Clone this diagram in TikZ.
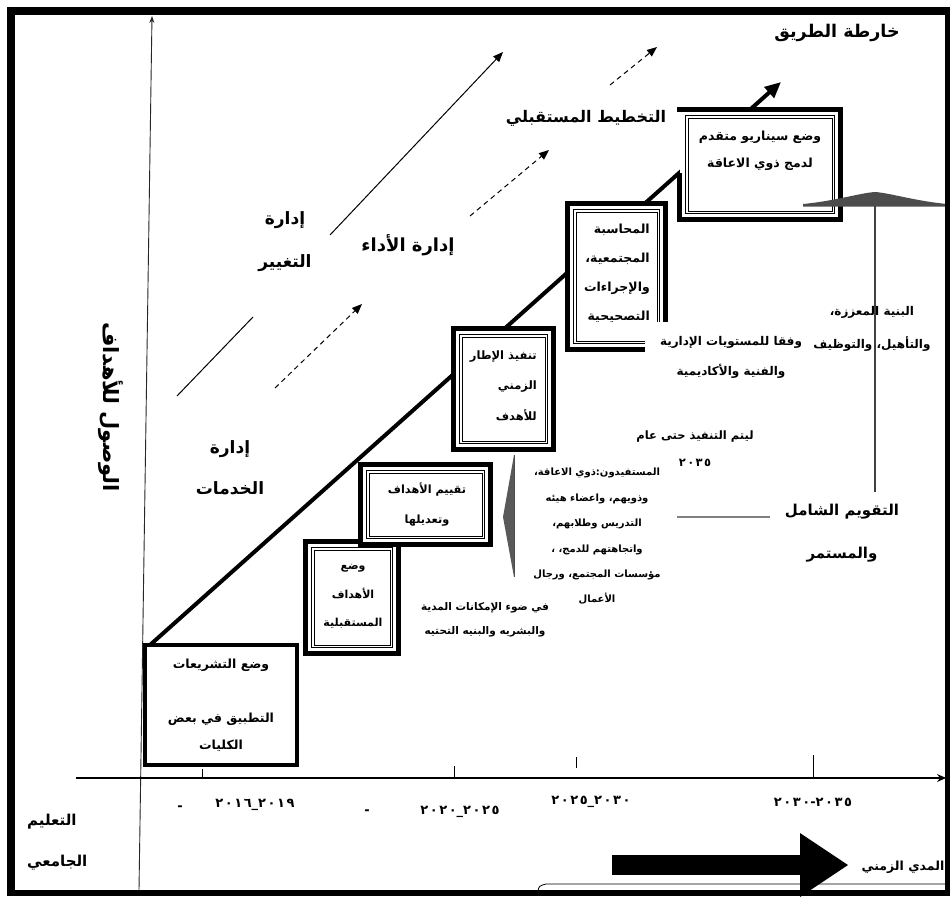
\documentclass[tikz,border=0pt]{standalone}
\usepackage{fontspec}
\newfontfamily\arabicfont[Script=Arabic]{DejaVu Sans}
\newfontfamily\digitfont[Script=Arabic,LetterSpace=12]{DejaVu Sans}
\TeXXeTstate=1
\usetikzlibrary{arrows.meta}
\newcommand{\AR}[1]{\beginR #1\endR}
\newcommand{\fsz}[2]{\fontsize{#1}{#2}\selectfont}
\tikzset{
  ar/.style={inner sep=0pt, align=center},
  num/.style={inner sep=0pt, font=\digitfont\bfseries\fsz{13}{15}},
  stairbox/.style={draw=black, fill=white, line width=5pt, inner sep=0pt, outer sep=0pt},
  thinline/.style={draw=black, line width=0.75pt},
  thinarrow/.style={line width=1pt, -{Triangle[length=10pt,width=8pt]}},
  dasharrow/.style={line width=1pt, dash pattern=on 5pt off 4pt, -{Triangle[length=10pt,width=8pt]}},
  tick/.style={line width=1pt},
}
\begin{document}
\begin{tikzpicture}[x=1pt,y=-1pt]
\useasboundingbox (0,0) rectangle (952,896);
\fill[white] (0,0) rectangle (952,896);

% axes
\coordinate (yax0) at (139,890);
\coordinate (yax1) at (152,16);
\draw[line width=0.9pt, black!85, -{Stealth[length=7pt,width=5pt]}] (yax0) -- (yax1);
\coordinate (xax0) at (76,778);
\coordinate (xax1) at (946,778);
\draw[line width=1.1pt, -{Stealth[length=9pt,width=8pt]}] (xax0) -- (xax1);
\draw[tick] (202,769) -- (202,778);
\draw[tick] (454,766) -- (454,778);
\draw[tick] (576,757) -- (576,768);
\draw[tick] (813,755) -- (813,778);

% decorative arrows
\coordinate (a1s) at (330,235); \coordinate (a1e) at (503,52);
\draw[thinarrow] (a1s) -- (a1e);
\coordinate (a2s) at (177,396); \coordinate (a2e) at (253,317);
\draw[line width=1pt] (a2s) -- (a2e);
\coordinate (a3s) at (275,388); \coordinate (a3e) at (362,304);
\draw[dasharrow] (a3s) -- (a3e);
\coordinate (a4s) at (470,216); \coordinate (a4e) at (549,150);
\draw[dasharrow] (a4s) -- (a4e);
\coordinate (a5s) at (610,85); \coordinate (a5e) at (657,47);
\draw[dasharrow] (a5s) -- (a5e);

% main diagonal
\coordinate (mstart) at (150,645);
\coordinate (mtip) at (781,82);
\draw[line width=4pt, -{Triangle[length=16pt,width=14pt]}] (mstart) -- (mtip);

% stair boxes
\node[stairbox, line width=3.5pt, minimum width=152pt, minimum height=120pt] (b1) at (221,705) {};
\node[stairbox, minimum width=93pt, minimum height=112pt] (b2) at (352,597.5) {};
\draw[thinline] ([shift={(6,6)}]b2.north west) rectangle ([shift={(-6,-6)}]b2.south east);
\draw[thinline] ([shift={(8.5,8.5)}]b2.north west) rectangle ([shift={(-8.5,-8.5)}]b2.south east);
\node[stairbox, minimum width=130pt, minimum height=80pt] (b3) at (425.5,504.5) {};
\draw[thinline] ([shift={(6,6)}]b3.north west) rectangle ([shift={(-6,-6)}]b3.south east);
\draw[thinline] ([shift={(8.5,8.5)}]b3.north west) rectangle ([shift={(-8.5,-8.5)}]b3.south east);
\node[stairbox, minimum width=100pt, minimum height=121pt] (b4) at (503.5,389) {};
\draw[thinline] ([shift={(6,6)}]b4.north west) rectangle ([shift={(-6,-6)}]b4.south east);
\draw[thinline] ([shift={(8.5,8.5)}]b4.north west) rectangle ([shift={(-8.5,-8.5)}]b4.south east);
\node[stairbox, minimum width=98pt, minimum height=146pt] (b5) at (616.5,276.5) {};
\draw[thinline] ([shift={(6,6)}]b5.north west) rectangle ([shift={(-6,-6)}]b5.south east);
\draw[thinline] ([shift={(8.5,8.5)}]b5.north west) rectangle ([shift={(-8.5,-8.5)}]b5.south east);
\node[stairbox, draw=none, minimum width=161pt, minimum height=110pt] (b6) at (760,164.5) {};
\draw[line width=5pt] (679.5,173) -- (679.5,219.5) -- (840.5,219.5) -- (840.5,109.5) -- (677,109.5);
\draw[thinline] ([shift={(6,6)}]b6.north west) rectangle ([shift={(-6,-6)}]b6.south east);
\draw[thinline] ([shift={(8.5,8.5)}]b6.north west) rectangle ([shift={(-8.5,-8.5)}]b6.south east);

% box texts
\node[ar, font=\arabicfont\bfseries\fsz{12.5}{27}] (t1) at (221,705) {\AR{وضع التشريعات}\\[27pt]\AR{التطبيق في بعض}\\\AR{الكليات}};
\node[ar, font=\arabicfont\bfseries\fsz{11}{28.5}] (t2) at (353,596.5) {\AR{وضع}\\\AR{الأهداف}\\\AR{المستقبلية}};
\node[ar, font=\arabicfont\bfseries\fsz{11.3}{30}] (t3) at (427,505) {\AR{تقييم الأهداف}\\\AR{وتعديلها}};
\node[ar, align=right, anchor=east, font=\arabicfont\bfseries\fsz{11.5}{30.5}] (t4) at (537,385.5) {\AR{تنفيذ الإطار}\\\AR{الزمني}\\\AR{للأهدف}};
\node[ar, align=right, anchor=east, font=\arabicfont\bfseries\fsz{12.5}{29}] (t5) at (650,273.5) {\AR{المحاسبة}\\\AR{المجتمعية،}\\\AR{والإجراءات}\\\AR{التصحيحية}};
\node[ar, font=\arabicfont\bfseries\fsz{12.5}{27}] (t6) at (760,151) {\AR{وضع سيناريو متقدم}\\\AR{لدمج ذوي الاعاقة}};

% annotation text covering corner of box 5
\fill[white] (645,322) rectangle (671,356);
\node[ar, font=\arabicfont\bfseries\fsz{12}{30}] (n1) at (731,357) {\AR{وفقا للمستويات الإدارية}\\\AR{والفنية والأكاديمية}};

% umbrella and evaluation
\fill[black!70] (803,204) .. controls (835,201) and (860,193) .. (875,192) .. controls (890,193) and (915,201) .. (947,204) -- (947,206.5) -- (803,206.5) -- cycle;
\coordinate (vtop) at (875,206);
\coordinate (vbot) at (875,492);
\draw[line width=1.2pt, black!75] (vtop) -- (vbot);
\node[ar, font=\arabicfont\bfseries\fsz{12}{33}] (n2) at (872,328.5) {\AR{البنية المعززة،}\\\AR{والتأهيل، والتوظيف}};
\node[ar, font=\arabicfont\bfseries\fsz{15}{43}] (n3) at (842,533.5) {\AR{التقويم الشامل}\\\AR{والمستمر}};
\coordinate (gl1) at (677,517);
\coordinate (gl2) at (770,517);
\draw[line width=2.5pt, black!50] (gl1) -- (gl2);
\node[ar, font=\arabicfont\bfseries\fsz{11.5}{27}] (n4) at (695,448.5) {\AR{ليتم التنفيذ حتى عام}\\{\digitfont\hbox{٢٠٣٥}}};
\node[ar, font=\arabicfont\bfseries\fsz{10}{25.4}] (n5) at (597,536.5) {\AR{المستفيدون:ذوي الاعاقة،}\\\AR{وذويهم، واعضاء هيئه}\\\AR{التدريس وطلابهم،}\\\AR{واتجاهتهم للدمج، ،}\\\AR{مؤسسات المجتمع، ورجال}\\\AR{الأعمال}};
\fill[black!65] (514,455) -- (503,517) -- (514,577) -- cycle;
\draw[line width=0.8pt, black!70] (514,455) -- (514,577);
\node[ar, font=\arabicfont\bfseries\fsz{10.5}{24}] (n6) at (485,620) {\AR{في ضوء الإمكانات المدية}\\\AR{والبشريه والبنيه التحتيه}};

% big labels
\node[ar, font=\arabicfont\bfseries\fsz{17.5}{22}] (title) at (837,33) {\AR{خارطة الطريق}};
\node[ar, font=\arabicfont\bfseries\fsz{16}{20}] (plan) at (586,118) {\AR{التخطيط المستقبلي}};
\node[ar, font=\arabicfont\bfseries\fsz{18}{22}] (perf) at (408,245) {\AR{إدارة الأداء}};
\node[ar, font=\arabicfont\bfseries\fsz{17}{43}] (chg) at (285,241.5) {\AR{إدارة}\\\AR{التغيير}};
\node[ar, font=\arabicfont\bfseries\fsz{17}{41}] (srv) at (230,467.5) {\AR{إدارة}\\\AR{الخدمات}};
\node[ar, rotate=-90, font=\arabicfont\bfseries\fsz{21}{24}] (goal) at (111,407) {\AR{الوصول للأهداف}};
\node[ar, align=left, anchor=west, font=\arabicfont\bfseries\fsz{15}{41}] (uni) at (27,842.5) {\AR{التعليم}\\\AR{الجامعي}};

% dates
\node[num] (d1) at (255,805) {\hbox{٢٠١٦}\hbox{\_}\hbox{٢٠١٩}};
\node[num] (d2) at (460,812) {\hbox{٢٠٢٠}\hbox{\_}\hbox{٢٠٢٥}};
\node[num] (d3) at (591,802) {\hbox{٢٠٢٥}\hbox{\_}\hbox{٢٠٣٠}};
\node[num] (d4) at (813,802) {\hbox{٢٠٣٠}\hbox{-}\hbox{٢٠٣٥}};
\node[num] (m1) at (180,808) {-};
\node[num] (m2) at (367,812) {-};

% time span arrow
\draw[line width=0.8pt] (538,891) .. controls (539,886) .. (546,884) -- (945,884);
\fill[black] (612,855) rectangle (800,875);
\fill[black] (800,833) -- (848,865) -- (800,897) -- cycle;
\node[ar, font=\arabicfont\bfseries\fsz{12.5}{14}, fill=white, inner sep=1pt] (span) at (903,867) {\AR{المدي الزمني}};

% frame
\fill[black] (7,7) rectangle (15,896);
\fill[black] (7,7) rectangle (950,15);
\fill[black] (945,7) rectangle (950,896);
\fill[black] (7,890) rectangle (950,896);
\end{tikzpicture}
\end{document}
